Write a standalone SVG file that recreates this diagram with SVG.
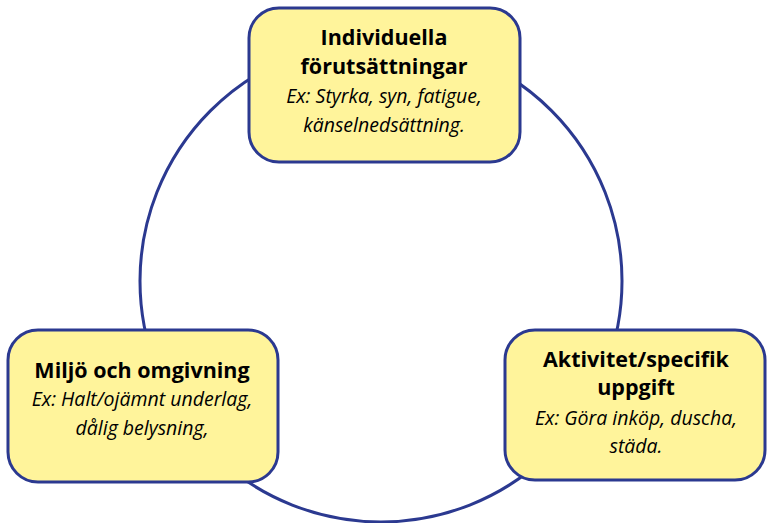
<svg xmlns="http://www.w3.org/2000/svg" width="770" height="523" viewBox="0 0 770 523">
<style>
.box{fill:#fff49b;stroke:#2b3990;stroke-width:3}
.ring{fill:none;stroke:#2b3990;stroke-width:3}
text{font-family:"Open Sans","Noto Sans",sans-serif;text-anchor:middle;fill:#000}
.t{font-weight:bold;font-size:21.5px}
.e{font-style:italic;font-size:19.5px}
</style>
<rect width="770" height="523" fill="#fff"/>
<g id="connectors">
<circle class="ring" cx="381" cy="281" r="241"/>
</g>
<g id="node-individuella">
<rect class="box" x="249" y="8" width="271" height="154" rx="30"/>
<text class="t" x="384" y="45">Individuella</text>
<text class="t" x="384" y="74">förutsättningar</text>
<text class="e" x="384" y="103">Ex: Styrka, syn, fatigue,</text>
<text class="e" x="384" y="132">känselnedsättning.</text>
</g>
<g id="node-miljo">
<rect class="box" x="8" y="330" width="270" height="152" rx="30"/>
<text class="t" x="142" y="378">Miljö och omgivning</text>
<text class="e" x="142" y="406">Ex: Halt/ojämnt underlag,</text>
<text class="e" x="142" y="435">dålig belysning,</text>
</g>
<g id="node-aktivitet">
<rect class="box" x="505" y="330" width="260" height="150" rx="30"/>
<text class="t" x="636" y="367">Aktivitet/specifik</text>
<text class="t" x="636" y="395">uppgift</text>
<text class="e" x="636" y="425">Ex: Göra inköp, duscha,</text>
<text class="e" x="636" y="453">städa.</text>
</g>
</svg>
